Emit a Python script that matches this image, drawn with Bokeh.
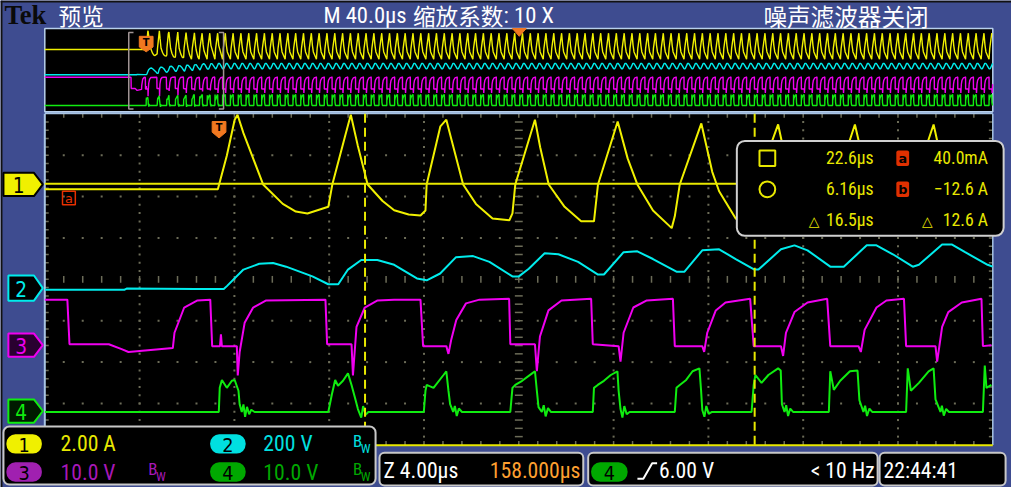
from bokeh.plotting import figure
from bokeh.models import Range1d, Quad
from bokeh.core.properties import value
from bokeh.embed import file_html
from bokeh.resources import INLINE

# ---------------- data (time in us from trigger) ----------------
# Channel 1 current (A), 2 A/div
ch1_pts = [(-7.35, -0.23), (-0.05, -0.23), (0.33, 1.40), (0.66, 3.13), (0.78, 3.37), (1.03, 2.48),
           (1.86, 0.00), (2.69, -0.94), (3.24, -1.31), (3.73, -1.40), (4.61, -1.08), (4.78, 0.00),
           (5.32, 2.34), (5.56, 3.37), (5.85, 1.90), (6.27, 0.00), (6.90, -0.80), (7.39, -1.25),
           (8.00, -1.45), (8.50, -1.50), (8.71, -1.26), (8.76, 0.00), (9.34, 2.81), (9.59, 3.13),
           (9.80, 2.20), (10.30, 0.00), (10.84, -0.94), (11.54, -1.64), (12.25, -1.73), (12.38, -1.40),
           (12.50, 0.00), (13.33, 3.13), (13.55, 1.80), (13.91, 0.00), (14.58, -1.08), (15.28, -1.78),
           (15.82, -1.78), (15.99, 0.00), (16.82, 3.04), (17.24, 1.26), (17.65, 0.00), (18.31, -1.26),
           (19.10, -2.11), (19.23, -1.54), (19.44, 0.00), (20.35, 2.95), (20.81, 0.61), (21.10, -0.33),
           (21.80, -1.64), (22.34, -2.11), (22.67, 0.00), (23.59, 2.90), (24.00, 0.70), (24.40, -0.47),
           (25.70, -2.10), (26.00, 0.00), (26.83, 2.90), (27.30, 0.56), (29.00, -2.10), (29.30, 0.00),
           (30.15, 2.90), (30.60, 0.56), (32.30, -2.10), (32.64, 0.00)]
# Channel 2 voltage (V), 200 V/div
ch2_pts = [(-7.35, -4), (-4.0, -4), (-3.9, 2), (-1.0, 0), (0.20, 0), (0.33, 14), (1.03, 94), (1.70, 122),
           (2.28, 126), (2.83, 108), (3.94, 61), (4.61, 23), (5.03, 23), (5.44, 94), (6.00, 140),
           (6.68, 140), (7.39, 117), (8.35, 51), (8.76, 42), (9.33, 75), (10.00, 154), (10.72, 159),
           (11.41, 131), (12.38, 61), (12.65, 61), (13.07, 98), (13.74, 173), (14.32, 168), (15.15, 131),
           (15.99, 70), (16.24, 70), (17.07, 178), (17.65, 182), (18.31, 145), (19.30, 84), (19.64, 84),
           (20.39, 187), (21.10, 192), (21.80, 145), (22.59, 94), (22.76, 94), (23.71, 192), (24.28, 211),
           (24.83, 187), (25.79, 108), (26.36, 108), (27.33, 211), (27.74, 211), (28.43, 168), (29.27, 108),
           (29.53, 117), (30.51, 215), (30.93, 215), (31.48, 178), (32.43, 117), (32.64, 108)]
# Channel 3 voltage (V), 10 V/div
ch3_pts = [(-7.35, 11.0), (-6.40, 11.0), (-6.31, 0.23), (-4.65, 0.23), (-4.11, -0.94), (-3.82, -1.64),
           (-1.95, -0.70), (-1.88, 3.0), (-1.47, 9.1), (-0.91, 10.8), (-0.37, 11.0), (-0.29, -0.23),
           (0.04, -0.23), (0.08, 2.6), (0.12, -0.23), (0.75, -0.23), (0.79, -7.3), (0.87, -1.64),
           (1.08, 5.4), (1.44, 9.1), (1.99, 10.8), (4.49, 11.0), (4.56, 0.23), (5.59, 0.23), (5.65, -7.3),
           (5.80, 4.4), (6.15, 9.1), (6.69, 10.8), (7.39, 11.0), (8.50, 11.0), (8.61, -0.23), (9.59, -0.23),
           (9.68, -2.1), (9.80, 1.4), (10.01, 6.1), (10.42, 10.1), (10.99, 11.0), (12.24, 11.2),
           (12.29, 0.23), (13.33, 0.23), (13.41, -6.3), (13.54, 2.1), (13.90, 8.4), (14.45, 10.8),
           (15.70, 11.2), (15.77, 0.23), (16.86, -0.23), (16.94, -4.0), (17.07, 3.0), (17.48, 9.1),
           (18.05, 10.8), (19.15, 11.2), (19.23, -0.23), (20.39, -0.23), (20.47, -1.64), (20.60, 3.0),
           (20.96, 8.4), (21.37, 10.3), (22.41, 11.2), (22.56, -0.23), (23.71, -0.23), (23.80, -2.6),
           (23.92, 3.0), (24.28, 8.0), (24.83, 10.3), (25.66, 11.2), (25.79, -0.23), (26.98, -0.23),
           (27.08, -1.64), (27.24, 3.7), (27.74, 9.1), (28.16, 10.8), (28.90, 11.2), (28.99, -0.23),
           (30.23, -0.23), (30.30, -4.0), (30.51, 4.4), (30.77, 8.0), (31.34, 10.3), (32.17, 11.2),
           (32.23, -0.23), (32.59, 0.0)]
# Channel 4 voltage (V), 10 V/div
ch4_pts = [(-7.35, -0.23), (-0.01, -0.23), (0.03, 5.6), (0.12, 7.5), (0.33, 5.6), (0.54, 7.3), (0.66, 7.5),
           (0.82, 4.9), (0.87, 1.64), (0.96, -0.23), (1.03, 1.6), (1.10, -1.4), (1.18, 1.0), (1.27, -0.8),
           (1.36, 0.3), (1.50, -0.23), (4.61, -0.23), (4.76, 4.0), (4.90, 7.5), (5.02, 6.1), (5.23, 7.3),
           (5.44, 9.1), (5.59, 6.3), (5.73, 3.3), (5.86, 0.47), (6.00, -1.6), (6.08, 1.2), (6.18, -0.9),
           (6.30, -0.23), (8.64, -0.23), (8.71, 4.9), (8.76, 6.3), (9.05, 5.6), (9.47, 8.7), (9.59, 9.6),
           (9.68, 4.9), (9.75, 1.64), (9.88, -0.23), (9.95, 1.2), (10.03, -1.2), (10.12, 0.6), (10.25, -0.23),
           (12.29, -0.23), (12.38, 5.6), (12.50, 6.3), (12.79, 7.3), (13.21, 9.1), (13.33, 9.6), (13.41, 4.9),
           (13.48, 0.94), (13.62, -0.23), (13.70, 1.4), (13.78, -1.3), (13.88, 0.7), (14.00, -0.23),
           (15.77, -0.23), (15.82, 5.6), (15.98, 6.3), (16.24, 7.3), (16.53, 8.7), (16.81, 9.6), (16.86, 4.9),
           (16.94, 0.47), (17.02, -1.6), (17.10, 1.2), (17.20, -0.8), (17.32, -0.23), (19.23, -0.23),
           (19.30, 5.6), (19.44, 6.3), (19.71, 7.5), (19.98, 9.6), (20.27, 10.3), (20.34, 4.9), (20.39, 0.23),
           (20.48, -1.4), (20.56, 1.2), (20.66, -0.7), (20.80, -0.23), (22.47, -0.23), (22.56, 6.3),
           (22.63, 8.7), (22.89, 6.8), (23.18, 8.7), (23.59, 10.3), (23.70, 9.8), (23.75, 1.64), (23.86, -0.23),
           (23.93, 1.4), (24.01, -1.2), (24.10, 0.6), (24.22, -0.23), (25.73, -0.23), (25.79, 9.6),
           (25.94, 5.1), (26.21, 7.3), (26.62, 9.6), (26.94, 9.8), (27.02, 2.6), (27.19, -0.23), (27.26, 1.3),
           (27.34, -1.2), (27.44, 0.6), (27.56, -0.23), (28.99, -0.23), (29.06, 10.3), (29.19, 4.9),
           (29.53, 6.8), (29.94, 9.6), (30.15, 10.3), (30.23, 2.8), (30.44, -0.23), (30.50, 1.3),
           (30.58, -1.1), (30.68, 0.5), (30.80, -0.23), (32.23, -0.23), (32.31, 11.0), (32.38, 5.6),
           (32.59, 6.3)]

# overview (40 us/div): steady-state switching cycle read from the last full cycle, repeated
ov_start, ov_end, ov_pre = 32.23, 357.2, -42.8
ov_period = 3.3
ov1_off, ov1_val = [0.0, 0.30, 1.16, 1.60, 2.00, 3.30], [-2.1, 0.0, 2.9, 0.56, -0.7, -2.1]
ov2_off, ov2_val = [0.0, 0.28, 0.54, 1.52, 1.94, 2.49, 3.30], [115, 108, 117, 215, 215, 178, 115]
ov3_off, ov3_val = [0.0, 0.02, 1.24, 1.31, 1.52, 1.78, 2.35, 3.28], [11.2, -0.23, -0.23, -4.0, 4.4, 8.0, 10.3, 11.2]
ov4_off, ov4_val = [0.0, 0.02, 0.07, 0.20, 0.54, 0.95, 1.16, 1.24, 1.45, 3.28], \
                   [-0.23, 10.3, 4.9, 6.8, 8.7, 9.8, 10.3, 2.8, -0.23, -0.23]

cursor_t = [6.16, 22.6]          # us
cursor_a = [0.04, -12.6]         # A

scale_labels = ["2.00 A", "200 V", "10.0 V", "10.0 V"]
readout_rows = [("22.6µs", "40.0mA"), ("6.16µs", "−12.6 A"), ("16.5µs", "12.6 A")]

# ---------------- figure ----------------
W, H = 1011, 487
S = W / 1027.0
BLUE = "#3e4c90"
YEL, CYA, MAG, GRN = "#f0f000", "#00ecec", "#f000f0", "#10ec10"
ORANGE = "#f07820"
GRID = "#6c6c58"
NARROW = "Liberation Sans Narrow, Roboto Condensed, DejaVu Sans Condensed, sans-serif"
CJK = "Noto Sans CJK SC"

p = figure(width=W, height=H, x_range=Range1d(0, 1027), y_range=Range1d(503, 0),
           x_axis_type=None, y_axis_type=None, output_backend="svg", toolbar_location=None,
           min_border=0)
p.grid.visible = False
p.outline_line_color = None
p.background_fill_color = BLUE
p.border_fill_color = BLUE

p.extra_x_ranges = {"t": Range1d(-9.221, 33.437), "tov": Range1d(-61.47, 365.11)}
p.extra_y_ranges = {"c1": Range1d(-14.643, 8.889), "c2": Range1d(-959.1, 1394.2),
                    "c3": Range1d(-34.386, 83.275), "c4": Range1d(-18.48, 99.18),
                    "o1": Range1d(-84.40, 9.183), "o2": Range1d(-7934.9, 1423.5),
                    "o3": Range1d(-383.16, 84.74), "o4": Range1d(-367.26, 100.65)}

HAS_R = "border_radius" in Quad.properties()


def box(l, r, t, b, fill, line=None, lw=1.5, radius=0, **kw):
    extra = {"border_radius": radius} if (HAS_R and radius) else {}
    p.quad(left=[l], right=[r], top=[t], bottom=[b], fill_color=fill, line_color=line,
           line_width=lw, **extra, **kw)


def txt(x, y, s, color, size, font=NARROW, align="left", base="middle", style="normal", **kw):
    p.text(x=[x], y=[y], text=[s], text_color=color, text_font_size=f"{size * S:.1f}px",
           text_font=value(font), text_align=align, text_baseline=base, text_font_style=style, **kw)


# rims
box(0, 1027, 0, 2, "#111111")
box(0, 2, 0, 503, "#111111")

# ---------------- overview ----------------
box(45, 1008, 29, 115, "black", "#b8d0ec", 1.5)

def split(pts):
    return [a for a, _ in pts], [b for _, b in pts]

def overview(pts, off, vals):
    base = [(ov_pre, pts[0][1])] + [(t, v) for t, v in pts if t < ov_start]
    k = 0
    while ov_start + k * ov_period < ov_end:
        for o, v in zip(off, vals):
            tt = ov_start + k * ov_period + o
            if tt <= ov_end:
                base.append((tt, v))
        k += 1
    return split(base)

for pts, off, vals, col, rn in [(ch1_pts, ov1_off, ov1_val, YEL, "o1"), (ch2_pts, ov2_off, ov2_val, CYA, "o2"),
                                (ch3_pts, ov3_off, ov3_val, MAG, "o3"), (ch4_pts, ov4_off, ov4_val, GRN, "o4")]:
    ox, oy = overview(pts, off, vals)
    p.line(ox, oy, x_range_name="tov", y_range_name=rn, line_color=col, line_width=1.4)

# zoom bracket in the overview
z0, z1 = -7.35, 32.65
sx = 2.0
p.multi_line(xs=[[z0 + sx, z0, z0, z0 + sx], [z1 - sx, z1, z1, z1 - sx]],
             ys=[[33, 33, 112, 112], [33, 33, 112, 112]], x_range_name="tov",
             line_color="#a09494", line_width=1.5)
# trigger marker in overview
p.patch([-2.9, 2.9, 2.9, 0, -2.9], [37, 37, 48, 53, 48], x_range_name="tov", fill_color=ORANGE,
        line_color=ORANGE)
txt(0, 43, "T", "black", 10, font="DejaVu Sans", align="center", style="bold", x_range_name="tov")
p.patch([520, 534, 527], [29, 29, 37], fill_color=ORANGE, line_color=ORANGE)

# ---------------- main graticule ----------------
gx0, gx1, gy0, gy1 = 45, 1008, 117, 459
dx, dy = (gx1 - gx0) / 10, (gy1 - gy0) / 8
box(gx0, gx1, gy0, gy1, "black", None)
dotx, doty = [], []
for k in range(1, 10):
    if k == 5:
        continue
    for m in range(1, 40):
        dotx.append(gx0 + k * dx); doty.append(gy0 + m * dy / 5)
for j in range(1, 8):
    if j == 4:
        continue
    for m in range(1, 50):
        dotx.append(gx0 + m * dx / 5); doty.append(gy0 + j * dy)
p.scatter(dotx, doty, marker="square", size=2, fill_color=GRID, line_color=None)
cx, cy = gx0 + 5 * dx, gy0 + 4 * dy
sx0, sx1, sy0, sy1 = [], [], [], []
for m in range(1, 50):
    x = gx0 + m * dx / 5
    for (a, b) in [(cy - 3.5, cy + 3.5), (gy0, gy0 + 4), (gy1 - 4, gy1)]:
        sx0.append(x); sx1.append(x); sy0.append(a); sy1.append(b)
for m in range(1, 40):
    y = gy0 + m * dy / 5
    for (a, b) in [(cx - 4, cx + 4), (gx0, gx0 + 4), (gx1 - 4, gx1)]:
        sx0.append(a); sx1.append(b); sy0.append(y); sy1.append(y)
p.segment(sx0, sy0, sx1, sy1, line_color=GRID, line_width=1.5)
p.segment([gx0, gx0], [gy0, gy0 - 0.5], [gx0, gx1], [gy1, gy0 - 0.5], line_color="#a8c4e4", line_width=2)
p.segment([gx1], [gy0], [gx1], [gy1], line_color="#a8c4e4", line_width=1.5)

# traces
for pts, col, rn in [(ch1_pts, YEL, "c1"), (ch2_pts, CYA, "c2"), (ch3_pts, MAG, "c3"), (ch4_pts, GRN, "c4")]:
    tx, ty = split(pts)
    p.line(tx, ty, x_range_name="t", y_range_name=rn, line_color=col, line_width=2)

# cursors
p.segment(x0=cursor_t, y0=[gy0, gy0], x1=cursor_t, y1=[gy1, gy1], x_range_name="t",
          line_color="#e8e800", line_width=2, line_dash="9 5")
p.segment(x0=[gx0, gx0], y0=cursor_a, x1=[gx1, gx1], y1=cursor_a, y_range_name="c1",
          line_color="#e8e800", line_width=2)

# trigger marker in main window
p.patch([-0.29, 0.29, 0.29, 0, -0.29], [125, 125, 136, 142, 136], x_range_name="t",
        fill_color=ORANGE, line_color=ORANGE)
txt(0, 131, "T", "black", 10, font="DejaVu Sans", align="center", style="bold", x_range_name="t")
# cursor a marker
box(63, 76, 197, 211, None, "#e83000", 1.5)
txt(69.5, 204, "a", "#e83000", 13, font="DejaVu Sans", align="center")

# channel markers on the left
def marker(x0, x1, yc, h, fill, line, label, tcol):
    p.patch([x0, x1 - 9, x1, x1 - 9, x0], [yc - h, yc - h, yc, yc + h, yc + h],
            fill_color=fill, line_color=line, line_width=2)
    txt((x0 + x1 - 9) / 2, yc + 1, label, tcol, 21, font="DejaVu Sans Condensed, DejaVu Sans", align="center")

marker(3, 43, 190, 12, YEL, "black", "1", "black")
marker(8, 43, 297, 13, "black", CYA, "2", CYA)
marker(8, 43, 356, 12, "#2a0030", MAG, "3", MAG)
marker(8, 43, 424, 12, "#001a00", GRN, "4", GRN)

# ---------------- readout box ----------------
box(748, 1019, 145, 243, "black", "#d0d0d0", 2, radius=8)
RY = [163, 195, 227]
p.quad(left=[771], right=[787], top=[155], bottom=[171], fill_color=None, line_color="#e8e800", line_width=2)
p.scatter([779], [195], marker="circle", size=16 * S, fill_color=None, line_color="#e8e800", line_width=2)
for i, (tv, av) in enumerate(readout_rows):
    txt(887, RY[i], tv, "#e8e800", 18, align="right")
    txt(1003, RY[i], av, "#e8e800", 18, align="right")
txt(821, 228, "△", "#e8e800", 14, font="DejaVu Sans")
txt(936, 228, "△", "#e8e800", 14, font="DejaVu Sans")
for yb, lab in [(163, "a"), (195, "b")]:
    box(910, 923, yb - 8, yb + 8, "#e03000", None, radius=2)
    txt(916.5, yb, lab, "black", 13, font="DejaVu Sans", align="center", style="bold")

# ---------------- bottom status ----------------
box(3, 381, 440, 500, "black", "#c8c8c8", 2, radius=6)
R1, R2 = 458, 487
def pill(x0, x1, yc, fill, label):
    box(x0, x1, yc - 10, yc + 10, fill, None, radius=9)
    txt((x0 + x1) / 2, yc + 1, label, "black", 20, font="DejaVu Sans Condensed, DejaVu Sans", align="center")

pill(6, 42, R1, YEL, "1"); pill(213, 249, R1, "#00e0e0", "2")
pill(6, 42, R2, "#a020b0", "3"); pill(213, 249, R2, "#00a800", "4")
txt(61, R1, scale_labels[0], "#e8e800", 22)
txt(267, R1, scale_labels[1], "#00e0e0", 22)
txt(61, R2, scale_labels[2], "#a818b8", 22)
txt(267, R2, scale_labels[3], "#00a800", 22)
for bx, by, col in [(358, R1, "#00e0e0"), (150, R2, "#a818b8"), (358, R2, "#00a800")]:
    txt(bx, by - 3, "B", col, 17)
    txt(bx + 8, by + 5, "W", col, 13)

box(385, 592, 467, 501, "black", "#c8c8c8", 2, radius=5)
txt(389, 485, "Z 4.00µs", "white", 22)
txt(497, 485, "158.000µs", "#ffa030", 22)
box(597, 891, 467, 501, "black", "#c8c8c8", 2, radius=5)
pill(600, 637, 487, "#00a800", "4")
p.line([647, 653, 662, 667], [494, 494, 478, 478], line_color="white", line_width=2)
txt(669, 485, "6.00 V", "white", 22)
txt(888, 485, "< 10 Hz", "white", 22, align="right")
box(893, 1021, 467, 501, "black", "#c8c8c8", 2, radius=5)
txt(897, 485, "22:44:41", "white", 22)

# ---------------- top bar ----------------
txt(4, 15, "Tek", "#0a0a0a", 27, font="Liberation Serif", style="bold")
txt(59, 16, "预览", "white", 23, font=CJK)
txt(328, 15, "M 40.0µs", "white", 23)
txt(419, 16, "缩放系数", "white", 23, font=CJK)
txt(511, 15, ": 10 X", "white", 23)
txt(775, 16, "噪声滤波器关闭", "white", 24, font=CJK)

open("out.html", "w").write(file_html(p, INLINE))
